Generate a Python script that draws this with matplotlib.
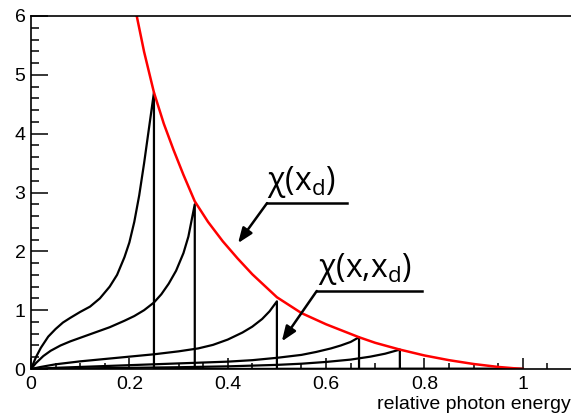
"""Photon energy spectra chi(x, x_d) with the envelope chi(x_d)."""

import matplotlib

matplotlib.use("Agg")
import matplotlib.pyplot as plt
from matplotlib.ticker import MultipleLocator, FuncFormatter

# envelope chi(x_d)
env_x = [0.205, 0.215, 0.23, 0.25, 0.27, 0.29, 0.31, 0.333, 0.36, 0.39, 0.42,
         0.45, 0.5, 0.55, 0.6, 0.667, 0.7, 0.75, 0.8, 0.85, 0.9, 0.95, 1.0]
env_y = [6.45, 6.0, 5.39, 4.7, 4.17, 3.72, 3.3, 2.85, 2.5, 2.17, 1.88,
         1.61, 1.22, 0.95, 0.76, 0.54, 0.445, 0.33, 0.23, 0.15, 0.085, 0.035, 0.0]

# spectra chi(x, x_d) for several x_d
xd_values = [0.25, 0.333, 0.5, 0.667, 0.75]
spec_x = [
    [0, 0.01, 0.02, 0.035, 0.05, 0.065, 0.08, 0.1, 0.12, 0.14, 0.16, 0.175,
     0.19, 0.2, 0.21, 0.22, 0.23, 0.24, 0.25],
    [0, 0.01, 0.025, 0.04, 0.06, 0.08, 0.1, 0.13, 0.16, 0.19, 0.21, 0.23,
     0.25, 0.265, 0.28, 0.295, 0.31, 0.32, 0.333],
    [0, 0.02, 0.05, 0.1, 0.15, 0.2, 0.25, 0.3, 0.34, 0.37, 0.4, 0.43, 0.45,
     0.47, 0.485, 0.5],
    [0, 0.05, 0.1, 0.2, 0.3, 0.4, 0.45, 0.5, 0.55, 0.58, 0.61, 0.63, 0.65, 0.667],
    [0, 0.1, 0.2, 0.3, 0.4, 0.5, 0.55, 0.6, 0.65, 0.69, 0.72, 0.75],
]
spec_y = [
    [0, 0.2, 0.36, 0.55, 0.68, 0.79, 0.87, 0.97, 1.06, 1.2, 1.4, 1.6,
     1.9, 2.15, 2.5, 2.95, 3.5, 4.1, 4.7],
    [0, 0.1, 0.22, 0.31, 0.4, 0.47, 0.53, 0.62, 0.71, 0.82, 0.9, 1.0,
     1.13, 1.27, 1.45, 1.67, 1.97, 2.25, 2.8],
    [0, 0.035, 0.08, 0.13, 0.17, 0.21, 0.25, 0.3, 0.35, 0.41, 0.5, 0.62, 0.72,
     0.85, 0.98, 1.15],
    [0, 0.02, 0.035, 0.065, 0.095, 0.125, 0.15, 0.19, 0.24, 0.29, 0.35, 0.4, 0.46, 0.54],
    [0, 0.01, 0.02, 0.03, 0.045, 0.07, 0.09, 0.12, 0.16, 0.21, 0.26, 0.33],
]

plt.rcParams["font.family"] = ["Liberation Sans", "DejaVu Sans"]
plt.rcParams["mathtext.fontset"] = "custom"
plt.rcParams["mathtext.rm"] = "Open Sans"

fig = plt.figure(figsize=(5.71, 4.16), dpi=100)
ax = fig.add_axes([31 / 571, 47 / 416, 540 / 571, 353 / 416])

for xs, ys, xd in zip(spec_x, spec_y, xd_values):
    ax.plot(xs + [xd, 1.0], ys + [0, 0], color="black", lw=1.6)

ax.plot(env_x, env_y, color="red", lw=1.8)

# annotations: underlined label with a bent arrow
arrow = dict(arrowstyle="-|>,head_length=0.9,head_width=0.35",
             color="black", lw=1.8, shrinkA=0, shrinkB=0)
ax.plot([0.48, 0.642], [2.82, 2.82], color="black", lw=1.8)
ax.annotate("", xy=(0.421, 2.14), xytext=(0.48, 2.82), arrowprops=arrow)
ax.text(0.48, 2.88, r"$\mathrm{χ(x_d)}$", fontsize=23, ha="left", va="bottom")

ax.plot([0.581, 0.795], [1.326, 1.326], color="black", lw=1.8)
ax.annotate("", xy=(0.51, 0.47), xytext=(0.581, 1.326), arrowprops=arrow)
ax.text(0.583, 1.4, r"$\mathrm{χ(x{,}x_d)}$", fontsize=23, ha="left", va="bottom")

ax.set_xlim(0, 1.098)
ax.set_ylim(0, 6)
ax.xaxis.set_major_locator(MultipleLocator(0.2))
ax.xaxis.set_minor_locator(MultipleLocator(0.05))
ax.yaxis.set_major_locator(MultipleLocator(1))
ax.yaxis.set_minor_locator(MultipleLocator(0.2))
ax.xaxis.set_major_formatter(FuncFormatter(lambda v, _: f"{v:g}"))
ax.yaxis.set_major_formatter(FuncFormatter(lambda v, _: f"{v:g}"))
ax.tick_params(axis="x", which="major", direction="in", length=8, width=1.1,
               labelsize=14, pad=5)
ax.tick_params(axis="x", which="minor", direction="in", length=4.3, width=1.1)
ax.tick_params(axis="y", which="major", direction="in", length=12, width=1.1,
               labelsize=14, pad=4)
ax.tick_params(axis="y", which="minor", direction="in", length=6, width=1.1)
for side in ("left", "bottom", "top"):
    ax.spines[side].set_linewidth(1.2)
ax.spines["right"].set_visible(False)

ax.set_xlabel("relative photon energy", fontsize=14, loc="right", labelpad=2)

fig.savefig("out.png", dpi=100)
